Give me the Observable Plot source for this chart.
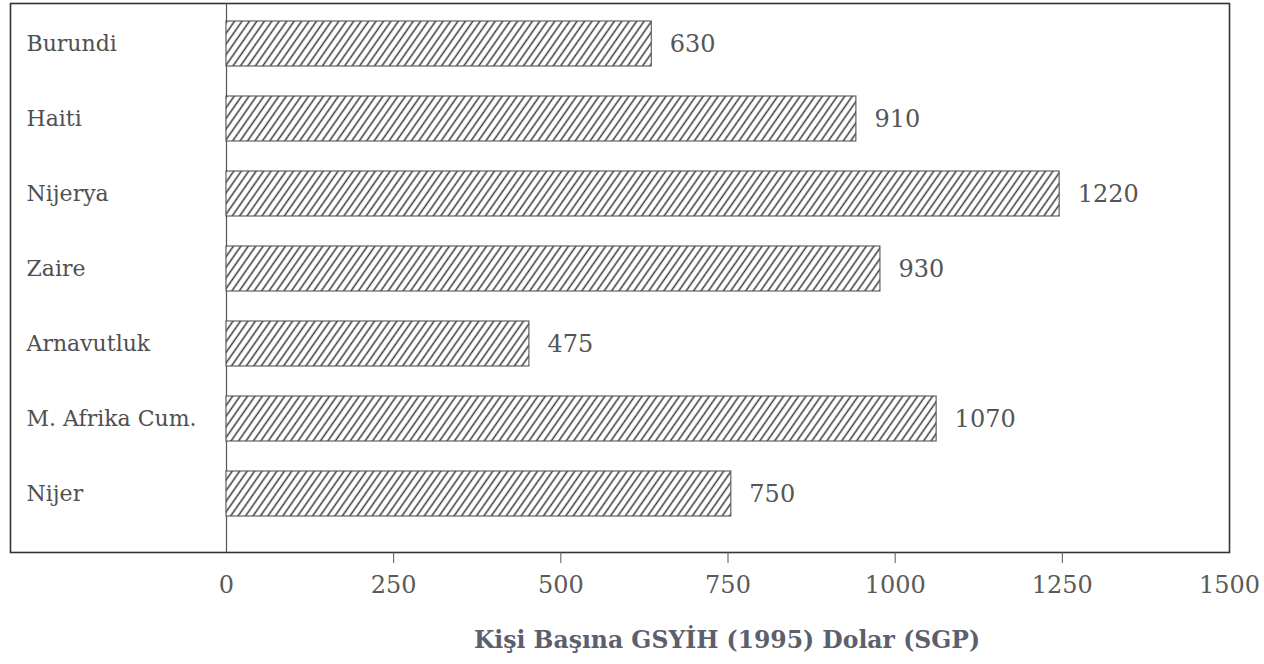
<!DOCTYPE html>
<html><head><meta charset="utf-8">
<script src="https://cdn.jsdelivr.net/npm/d3@7"></script>
<script src="https://cdn.jsdelivr.net/npm/@observablehq/plot@0.6"></script>
<style>
body{margin:0;background:#fff;}
#chart{width:1264px;}
#title{width:1074px;padding-left:190px;text-align:center;font-family:"DejaVu Serif";font-weight:bold;font-size:23.5px;color:#5c5f6e;line-height:26px;margin-top:12px;}
</style>
</head><body>
<div id="chart"></div>
<div id="title"></div>
<script>
const countries = ["Burundi", "Haiti", "Nijerya", "Zaire", "Arnavutluk", "M. Afrika Cum.", "Nijer"];
const valueLabels = [630, 910, 1220, 930, 475, 1070, 750];
const barLengths = [636, 942, 1246, 978, 453, 1062, 755];
const tickValues = [0, 250, 500, 750, 1000, 1250, 1500];
const tickMarks = [250, 500, 750, 1000, 1250];
const xTitle = "Kişi Başına GSYİH (1995) Dolar (SGP)";

const data = countries.map((c, i) => ({country: c, length: barLengths[i], label: String(valueLabels[i])}));

const svg = Plot.plot({
  width: 1264, height: 615,
  marginLeft: 10, marginRight: 35, marginTop: 3, marginBottom: 63,
  style: {fontFamily: "DejaVu Serif", background: "#fff", color: "#4a4a4a"},
  x: {domain: [0, 1500], range: [226, 1229]},
  y: {domain: countries, range: [19, 517], paddingInner: 0.405, paddingOuter: 0, axis: null},
  marks: [
    Plot.frame({stroke: "#333", strokeWidth: 1.6}),
    Plot.ruleX([0], {stroke: "#555", strokeWidth: 1.2}),
    Plot.barX(data, {y: "country", x: "length", fill: "url(#hatch)", stroke: "#555", strokeWidth: 1.1}),
    Plot.text(data, {y: "country", x: "length", text: "label", dx: 18, textAnchor: "start", fontSize: 24, fill: "#555"}),
    Plot.text(data, {y: "country", text: "country", frameAnchor: "left", dx: 16, textAnchor: "start", fontSize: 22, fill: "#505050"}),
    Plot.axisX({ticks: tickMarks, tickSize: 11, tickFormat: () => "", stroke: "#555", label: null}),
    Plot.axisX({ticks: tickValues, tickSize: 0, tickPadding: 23, fontSize: 24, fill: "#5a5a5a", label: null, tickFormat: d => String(d)})
  ]
});

const ns = "http://www.w3.org/2000/svg";
const defs = document.createElementNS(ns, "defs");
defs.innerHTML = '<pattern id="hatch" patternUnits="userSpaceOnUse" width="6.1" height="10" patternTransform="rotate(35)"><rect width="6.1" height="10" fill="#fff"/><line x1="3" y1="-1" x2="3" y2="11" stroke="#3a3a3a" stroke-width="1.5"/></pattern>';
svg.insertBefore(defs, svg.firstChild);
document.getElementById("chart").appendChild(svg);
document.getElementById("title").textContent = xTitle;
</script>
</body></html>
